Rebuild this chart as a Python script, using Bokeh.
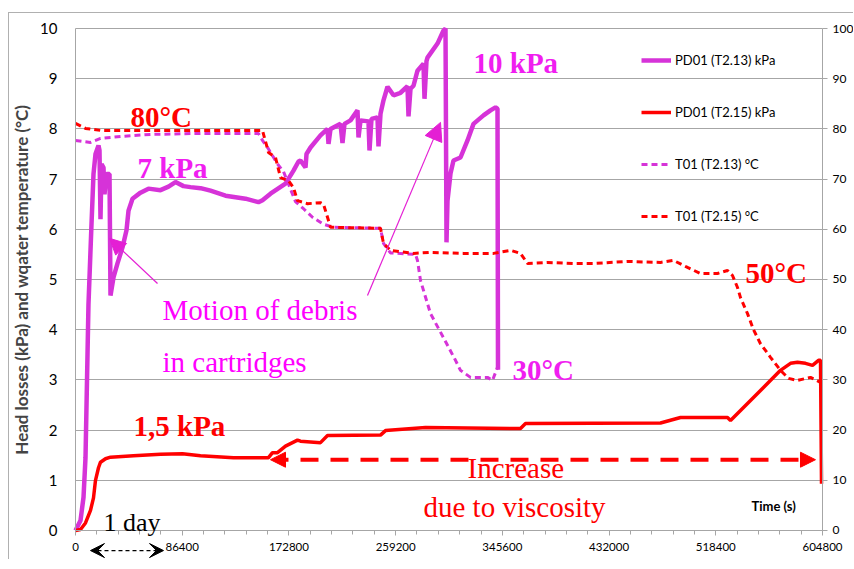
from bokeh.plotting import figure
from bokeh.models import (Range1d, LinearAxis, FixedTicker, Label, Arrow, NormalHead,
                          VeeHead, Legend, LegendItem, NumeralTickFormatter)
from bokeh.embed import file_html
from bokeh.resources import INLINE

# ---------------- data ----------------
x_ticks = [0, 86400, 172800, 259200, 345600, 432000, 518400, 604800]
x_minor = [i * 17280 for i in range(36)]
y_left_ticks = list(range(0, 11))
y_right_ticks = list(range(0, 101, 10))

# PD01 (T2.13) kPa  (magenta solid)
pd13_t = [0, 4050, 6480, 8100, 10500, 12950, 14570, 16190, 18620, 19430, 20240, 21050,
          22670, 23480, 25100, 27530, 28340, 30770, 34000, 38050, 41290, 42910, 46150,
          52630, 59100, 68820, 75300, 80960, 87440, 93110, 101200, 109300, 121450, 137640,
          148160, 151400, 157880, 170020, 176500, 180550, 182170, 186220, 187030, 190270,
          198360, 204030, 204840, 206460, 214550, 216170, 217790, 222650, 228320, 229130,
          230750, 237220, 238030, 239650, 244510, 245320, 246940, 249370, 252610, 257470,
          263130, 268800, 269610, 271230, 273660, 276900, 281750, 282560, 284180, 284990,
          293090, 297950, 299570, 300380, 301190, 303620, 306040, 311710, 317380, 322240,
          330330, 336000, 340050, 341670, 342070]
pd13_v = [0.0, 0.2, 0.66, 1.45, 4.5, 6.1, 7.1, 7.5, 7.67, 7.57, 6.2, 7.3,
          7.23, 6.7, 7.1, 7.1, 4.68, 5.04, 5.32, 5.64, 5.98, 6.37, 6.61,
          6.73, 6.81, 6.78, 6.85, 6.94, 6.86, 6.84, 6.82, 6.77, 6.67, 6.61,
          6.54, 6.58, 6.71, 6.91, 7.17, 7.35, 7.37, 7.23, 7.5, 7.63,
          7.87, 8.0, 7.7, 8.0, 8.1, 7.72, 8.1, 8.17, 8.37, 7.83,
          8.17, 8.15, 7.57, 8.2, 8.23, 7.65, 8.3, 8.57, 8.84, 8.67,
          8.72, 8.85, 8.25, 8.8, 8.86, 9.16, 9.3, 8.6, 9.35, 9.42,
          9.7, 9.96, 10.0, 5.74, 6.57, 7.11, 7.37, 7.43, 7.77, 8.1,
          8.27, 8.37, 8.43, 8.4, 3.2]

# PD01 (T2.15) kPa  (red solid)
pd15_t = [0, 4050, 8100, 12140, 14570, 16190, 18620, 20240, 24290, 28340, 46960, 68820,
          86630, 101200, 127920, 156260, 159490, 163550, 170020, 179740, 182170, 198360,
          204030, 246940, 250990, 283370, 360290, 364340, 473640, 489830, 527890, 530320,
          538420, 554600, 570790, 578890, 584560, 591040, 596710, 601570, 603190, 604000]
pd15_v = [0.0, 0.02, 0.15, 0.4, 0.65, 1.0, 1.25, 1.36, 1.43, 1.46, 1.49, 1.52,
          1.53, 1.49, 1.45, 1.45, 1.55, 1.55, 1.68, 1.8, 1.78, 1.75,
          1.89, 1.9, 1.99, 2.05, 2.03, 2.13, 2.14, 2.25, 2.25, 2.19,
          2.39, 2.79, 3.19, 3.33, 3.35, 3.33, 3.29, 3.39, 3.39, 0.93]

# T01 (T2.13) °C  (magenta dashed)
t13_t = [0, 12140, 20240, 36430, 60720, 101200, 148160, 151400, 156260, 163550, 168400,
         174070, 178120, 184600, 191880, 200790, 208880, 246940, 249370, 255030, 275280,
         276900, 279330, 287430, 297950, 307660, 311710, 319810, 333570, 337620, 341670]
t13_v = [77.7, 77.3, 78.1, 78.5, 78.9, 79.1, 79.1, 77.7, 76.0, 73.0, 71.5,
         68.0, 65.5, 64.1, 62.4, 61.0, 60.4, 60.2, 57.2, 55.3, 55.0,
         53.8, 49.8, 43.2, 38.4, 33.9, 31.9, 30.5, 30.5, 29.9, 32.5]

# T01 (T2.15) °C  (red dashed)
t15_t = [0, 8100, 20240, 151400, 156260, 161930, 165980, 172450, 176500, 179740, 187840,
         198360, 200790, 204030, 206460, 246940, 249370, 255030, 273660, 287430, 314140,
         338430, 352190, 360290, 365960, 382150, 403200, 419400, 446920, 473640, 484180,
         495500, 506030, 519790, 527890, 531940, 535990, 538420, 544090, 548950, 554600,
         562700, 570790, 577270, 584560, 595080, 603190]
t15_v = [81.1, 80.1, 79.7, 79.7, 75.3, 74.3, 70.3, 69.7, 68.3, 65.7, 65.1,
         65.3, 65.0, 62.4, 60.4, 60.2, 57.2, 55.8, 55.2, 55.4, 55.2,
         55.2, 55.8, 55.2, 53.2, 53.4, 53.2, 53.2, 53.6, 53.4, 53.8,
         52.4, 51.2, 51.2, 51.8, 50.8, 48.4, 46.4, 43.2, 40.0, 37.2,
         34.5, 31.9, 30.3, 29.9, 30.5, 29.5]

series_names = ["PD01 (T2.13) kPa", "PD01 (T2.15) kPa", "T01 (T2.13) °C", "T01 (T2.15) °C"]

# ---------------- styling ----------------
MAG_LINE = "#D633D8"
MAG_TEXT = "#F01EF0"
MAG_TEXT2 = "#FF00FF"
RED = "#FF0000"
GRID = "#A6A6A6"
SANS = "Lato"
SERIF = "Liberation Serif"

# The frame covers the whole canvas; the axes sit at fixed data positions
# (time 0 / 604800, value 0) so that everything around them can be drawn.
p = figure(width=845, height=547, output_backend="svg", toolbar_location=None,
           x_range=Range1d(-53436, 630710), y_range=Range1d(-0.598, 10.299),
           min_border=0)
p.styles = {"border-top": "1px solid #b0b0b0", "border-left": "1px solid #b0b0b0",
            "margin-top": "12px", "margin-left": "8px"}
p.outline_line_color = None
p.extra_y_ranges = {"temp": Range1d(-5.98, 102.99)}

# x axis at y = 0
xa = p.xaxis[0]
xa.fixed_location = 0
xa.bounds = (0, 604800)
xa.ticker = FixedTicker(ticks=x_ticks, minor_ticks=x_minor)
xa.formatter = NumeralTickFormatter(format="0")
xa.axis_line_color = GRID
xa.major_tick_line_color = GRID
xa.minor_tick_line_color = GRID
xa.major_tick_out = 5
xa.major_tick_in = 0
xa.minor_tick_out = 4
xa.minor_tick_in = 0
xa.major_label_text_font = SANS
xa.major_label_text_font_size = "11.5px"
xa.major_label_text_color = "#000000"
xa.major_label_standoff = 8
p.xgrid.visible = False

# left axis at time 0
ya = p.yaxis[0]
ya.fixed_location = 0
ya.bounds = (0, 10)
ya.ticker = FixedTicker(ticks=y_left_ticks)
ya.axis_line_color = GRID
ya.major_tick_line_color = None
ya.minor_tick_line_color = None
ya.major_label_text_font = SANS
ya.major_label_text_font_size = "15px"
ya.major_label_text_color = "#000000"
ya.major_label_standoff = 12
ya.axis_label = "Head losses (kPa) and wqater temperature (°C)"
ya.axis_label_text_font = SANS
ya.axis_label_text_font_style = "bold"
ya.axis_label_text_font_size = "17px"
ya.axis_label_standoff = 5
p.ygrid.grid_line_color = GRID
p.ygrid.ticker = FixedTicker(ticks=y_left_ticks)
p.ygrid.bounds = (0, 10)
p.ygrid.cross_bounds = (0, 604800)

# right axis at time 604800
ra = LinearAxis(y_range_name="temp", ticker=FixedTicker(ticks=y_right_ticks),
                bounds=(0, 100), fixed_location=604800)
ra.axis_line_color = GRID
ra.major_tick_line_color = GRID
ra.minor_tick_line_color = None
ra.major_tick_out = 5
ra.major_tick_in = 0
ra.major_label_text_font = SANS
ra.major_label_text_font_size = "12px"
ra.major_label_text_color = "#000000"
ra.major_label_standoff = 5
p.add_layout(ra, "right")

# data lines
r1 = p.line(pd13_t, pd13_v, line_color=MAG_LINE, line_width=4.5)
r2 = p.line(pd15_t, pd15_v, line_color=RED, line_width=3.5)
r3 = p.line(t13_t, t13_v, line_color=MAG_LINE, line_width=3, line_dash="6 4", y_range_name="temp")
r4 = p.line(t15_t, t15_v, line_color=RED, line_width=3, line_dash="6 4", y_range_name="temp")

legend = Legend(items=[LegendItem(label=series_names[0], renderers=[r1]),
                       LegendItem(label=series_names[1], renderers=[r2]),
                       LegendItem(label=series_names[2], renderers=[r3]),
                       LegendItem(label=series_names[3], renderers=[r4])],
                location=(632, 334), orientation="vertical",
                glyph_width=30, glyph_height=20, label_height=20, label_standoff=4,
                spacing=32, padding=0, margin=0,
                background_fill_alpha=0, border_line_color=None,
                label_text_font=SANS, label_text_font_size="13px", label_text_color="#000000")
p.add_layout(legend)

# text annotations
def lab(x, y, text, color, size, bold=False, font=SERIF):
    p.add_layout(Label(x=x, y=y, text=text, text_color=color, text_font=font,
                       text_font_size=size, text_font_style="bold" if bold else "normal",
                       text_align="left", text_baseline="alphabetic"))

lab(44530, 8.23, "80°C", RED, "29px", True)
lab(50200, 7.23, "7 kPa", MAG_TEXT, "29px", True)
lab(322240, 9.32, "10 kPa", MAG_TEXT, "29px", True)
lab(542460, 5.12, "50°C", RED, "29px", True)
lab(353810, 3.19, "30°C", MAG_TEXT, "29px", True)
lab(46960, 2.09, "1,5 kPa", RED, "29px", True)
lab(70440, 4.40, "Motion of debris", MAG_TEXT2, "29px")
lab(70440, 3.35, "in cartridges", MAG_TEXT2, "29px")
lab(317380, 1.25, "Increase", RED, "29px")
lab(281750, 0.46, "due to viscosity", RED, "29px")
lab(22670, 0.15, "1 day", "#000000", "26px")
lab(547320, 0.48, "Time (s)", "#000000", "13px", True, SANS)

# arrows
ARW = "#E41FD4"
p.add_layout(Arrow(x_start=66400, y_start=4.92, x_end=27530, y_end=5.82,
                   line_color=ARW, line_width=1.2,
                   end=NormalHead(size=16, fill_color=ARW, line_color=ARW)))
p.add_layout(Arrow(x_start=236400, y_start=4.68, x_end=295520, y_end=8.13,
                   line_color=ARW, line_width=1.2,
                   end=NormalHead(size=18, fill_color=ARW, line_color=ARW)))
p.add_layout(Arrow(x_start=157880, y_start=1.41, x_end=599130, y_end=1.41,
                   line_color=RED, line_width=4, line_dash="18 12",
                   start=NormalHead(size=15, fill_color=RED, line_color=RED),
                   end=NormalHead(size=15, fill_color=RED, line_color=RED)))
p.add_layout(Arrow(x_start=12140, y_start=-0.40, x_end=71250, y_end=-0.40,
                   line_color="#000000", line_width=1.2, line_dash="4 3",
                   start=VeeHead(size=14, fill_color="#000000", line_color="#000000"),
                   end=VeeHead(size=14, fill_color="#000000", line_color="#000000")))

open("out.html", "w").write(file_html(p, INLINE))
